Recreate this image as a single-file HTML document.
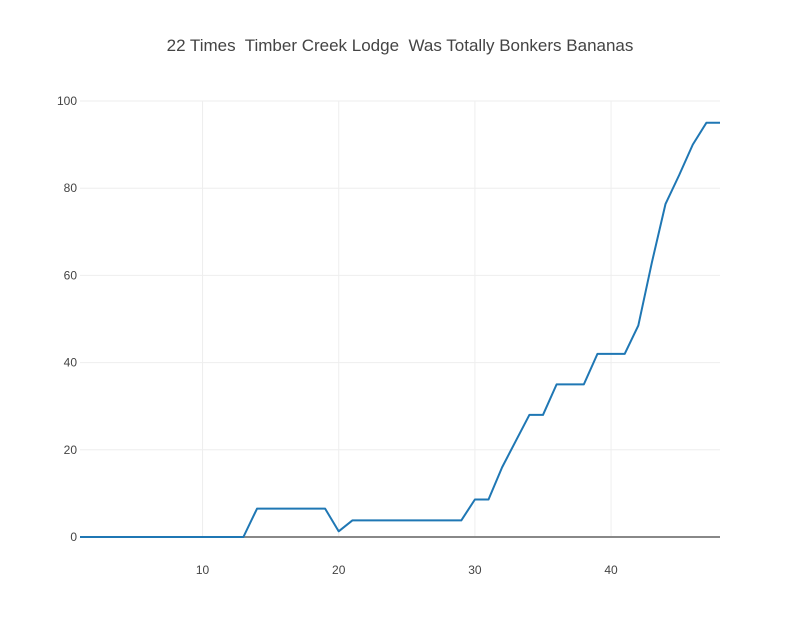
<!DOCTYPE html>
<html><head><meta charset="utf-8"><style>
html,body{margin:0;padding:0;background:#fff;}
svg{display:block;font-family:"Liberation Sans","DejaVu Sans",sans-serif;}
text{white-space:pre;}
</style></head><body>
<svg id="chart" width="800" height="640" viewBox="0 0 800 640"></svg>
<script>
const xValues = [1,2,3,4,5,6,7,8,9,10,11,12,13,14,15,16,17,18,19,20,21,22,23,24,25,26,27,28,29,30,31,32,33,34,35,36,37,38,39,40,41,42,43,44,45,46,47,48];
const yValues = [0,0,0,0,0,0,0,0,0,0,0,0,0,6.5,6.5,6.5,6.5,6.5,6.5,1.3,3.8,3.8,3.8,3.8,3.8,3.8,3.8,3.8,3.8,8.6,8.6,16,22,28,28,35,35,35,42,42,42,48.5,63,76.4,83,90,95,95];
const xTicks = [10,20,30,40];
const yTicks = [0,20,40,60,80,100];
const titleText = "22 Times  Timber Creek Lodge  Was Totally Bonkers Bananas";

const NS = "http://www.w3.org/2000/svg";
const svg = document.getElementById('chart');
const L = 80, R = 720, T = 101, B = 537;
const xMin = 1, xMax = 48, yMin = 0, yMax = 100;
function sx(v){ return L + (v - xMin) / (xMax - xMin) * (R - L); }
function sy(v){ return B - (v - yMin) / (yMax - yMin) * (B - T); }
function mk(tag, attrs){ const e = document.createElementNS(NS, tag); for (const k in attrs) e.setAttribute(k, attrs[k]); svg.appendChild(e); return e; }

const title = mk('text', {x: 400, y: 51, 'text-anchor': 'middle', 'font-size': 17, fill: '#444'});
title.textContent = titleText;



xTicks.forEach(t => {
  const g = mk('line', {x1: sx(t), x2: sx(t), y1: T, y2: B, stroke: '#eee', 'stroke-width': 1});
  
  
  const lb = mk('text', {x: sx(t), y: B + 37, 'text-anchor': 'middle', 'font-size': 12, fill: '#444'});
  lb.textContent = t;
  
  
});
yTicks.forEach(t => {
  if (t !== 0) {
    const g = mk('line', {x1: L, x2: R, y1: sy(t), y2: sy(t), stroke: '#eee', 'stroke-width': 1});
    
    
  }
  const lb = mk('text', {x: L - 3, y: sy(t) + 4, 'text-anchor': 'end', 'font-size': 12, fill: '#444'});
  lb.textContent = t;
  
  
});
const zl = mk('line', {x1: L, x2: R, y1: sy(0), y2: sy(0), stroke: '#888', 'stroke-width': 2});



const d = xValues.map((x, i) => (i ? 'L' : 'M') + sx(x).toFixed(2) + ',' + sy(yValues[i]).toFixed(2)).join(' ');
const line = mk('path', {d: d, fill: 'none', stroke: '#1f77b4', 'stroke-width': 2, 'stroke-linejoin': 'round'});


</script>
</body></html>
